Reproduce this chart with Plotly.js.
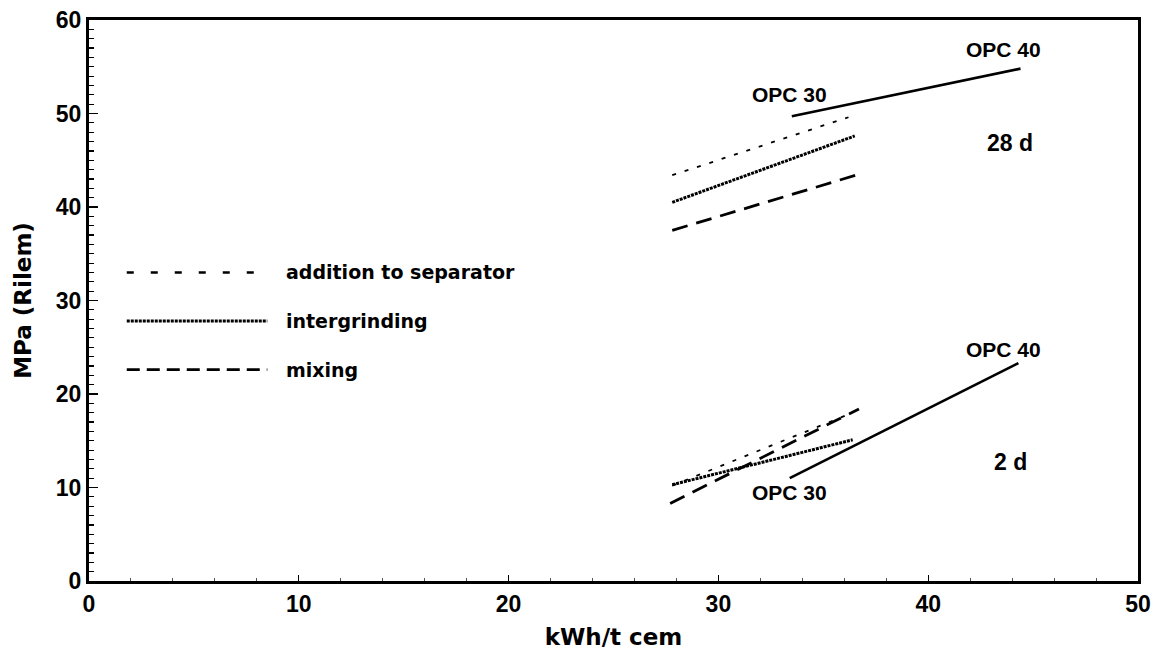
<!DOCTYPE html>
<html>
<head>
<meta charset="utf-8">
<script src="https://cdn.plot.ly/plotly-3.0.1.min.js"></script>
<style>html,body{margin:0;padding:0;background:#fff;}#chart{width:1154px;height:655px;}</style>
</head>
<body>
<div id="chart"></div>
<script>
// ---- data ----
// 28 day strength
const x28_opc = [33.5, 44.4];
const y28_opc = [49.7, 54.8];
const x28_sep = [27.8, 36.2];
const y28_sep = [43.4, 49.6];
const x28_int = [27.8, 36.5];
const y28_int = [40.5, 47.6];
const x28_mix = [27.8, 36.7];
const y28_mix = [37.5, 43.5];
// 2 day strength
const x2_opc = [33.4, 44.3];
const y2_opc = [11.0, 23.3];
const x2_sep = [27.8, 36.4];
const y2_sep = [10.2, 18.0];
const x2_int = [27.8, 36.4];
const y2_int = [10.3, 15.1];
const x2_mix = [27.7, 36.7];
const y2_mix = [8.3, 18.4];

const legendLabels = ["addition to separator", "intergrinding", "mixing"];
const xTicks = [0, 10, 20, 30, 40, 50];
const yTicks = [0, 10, 20, 30, 40, 50, 60];

// ---- styles ----
const F = "Liberation Sans, Arial, Helvetica, sans-serif";
const FW = "DejaVu Sans, Liberation Sans, sans-serif";
const sSep = {color: "#000", width: 1.8, dash: "4px,9px"};
const sInt = {color: "#000", width: 3, dash: "3px,1px"};
const sMix = {color: "#000", width: 2.8, dash: "16px,9px"};
const sOpc = {color: "#000", width: 2.6};
const lSep = {color: "#000", width: 2.6, dash: "7px,17px"};
const lMix = {color: "#000", width: 2.8, dash: "13px,7px"};

function tr(x, y, line) {
  return {x: x, y: y, type: "scatter", mode: "lines", line: line, showlegend: false, hoverinfo: "skip"};
}

const data = [
  tr(x28_opc, y28_opc, sOpc), tr(x28_sep, y28_sep, sSep), tr(x28_int, y28_int, sInt), tr(x28_mix, y28_mix, sMix),
  tr(x2_opc, y2_opc, sOpc), tr(x2_sep, y2_sep, sSep), tr(x2_int, y2_int, sInt), tr(x2_mix, y2_mix, sMix)
];

// legend drawn as in the original (samples + labels inside the plot area)
const legStyles = [lSep, sInt, lMix];
const legY = [33.0, 27.8, 22.6];
const shapes = legStyles.map((s, i) => ({
  type: "line", xref: "x", yref: "y", x0: 1.8, x1: 8.5, y0: legY[i], y1: legY[i], line: s
}));

function ann(text, x, y, size) {
  return {text: text, x: x, y: y, xref: "x", yref: "y", showarrow: false,
          font: {family: F, size: size, color: "#000", weight: "bold"}};
}
const annotations = [
  ann("OPC 30", 33.4, 52.0, 21), ann("OPC 40", 43.6, 56.8, 21), ann("28 d", 43.9, 46.8, 23),
  ann("OPC 40", 43.6, 24.8, 21), ann("OPC 30", 33.4, 9.5, 21), ann("2 d", 43.9, 12.7, 23)
].concat(legendLabels.map((t, i) => ({
  text: t, x: 9.3, y: legY[i], xref: "x", yref: "y", xanchor: "left", showarrow: false,
  font: {family: FW, size: 19, color: "#000", weight: "bold"}
})));

const layout = {
  width: 1154, height: 655,
  margin: {l: 89, r: 16, t: 20, b: 74},
  paper_bgcolor: "#fff", plot_bgcolor: "#fff",
  showlegend: false,
  xaxis: {
    range: [0, 50], tickvals: xTicks, ticktext: xTicks.map(String),
    showgrid: false, zeroline: false,
    showline: true, mirror: true, linecolor: "#000", linewidth: 3,
    ticks: "inside", ticklen: 6, tickwidth: 1, tickcolor: "#000",
    minor: {dtick: 2, ticks: "inside", ticklen: 3, tickwidth: 1, tickcolor: "#555"},
    tickfont: {family: F, size: 23, color: "#000", weight: "bold"},
    ticklabeloverflow: "allow",
    title: {text: "kWh/t cem", font: {family: FW, size: 23, color: "#000", weight: "bold"}, standoff: 14}
  },
  yaxis: {
    range: [0, 60], tickvals: yTicks, ticktext: yTicks.map(String),
    showgrid: false, zeroline: false,
    showline: true, mirror: true, linecolor: "#000", linewidth: 3,
    ticks: "inside", ticklen: 9, tickwidth: 1.5, tickcolor: "#000",
    minor: {dtick: 1, ticks: "inside", ticklen: 5, tickwidth: 1.2, tickcolor: "#000"},
    tickfont: {family: F, size: 23, color: "#000", weight: "bold"},
    ticklabeloverflow: "allow",
    title: {text: "MPa (Rilem)", font: {family: FW, size: 23, color: "#000", weight: "bold"}, standoff: 18}
  },
  shapes: shapes,
  annotations: annotations
};

Plotly.newPlot("chart", data, layout, {displayModeBar: false, staticPlot: true});
</script>
</body>
</html>
